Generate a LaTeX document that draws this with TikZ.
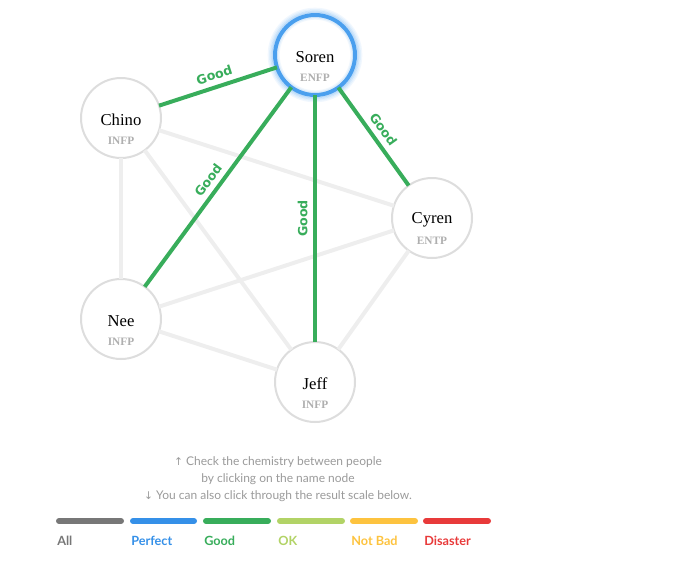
\documentclass[tikz,border=0pt]{standalone}
\usepackage{fontspec}
\setmainfont{Liberation Serif}
\setsansfont{Lato}
\newfontfamily\edgefont{DejaVu Sans}
\newfontfamily\arrowfont{DejaVu Sans}
\usetikzlibrary{positioning}

\definecolor{goodgreen}{HTML}{38AD5B}
\definecolor{edgegray}{HTML}{EEEEEE}
\definecolor{ringgray}{HTML}{DDDDDD}
\definecolor{sorenblue}{HTML}{4A9FEE}
\definecolor{typegray}{HTML}{AFAFAF}
\definecolor{hintgray}{HTML}{9A9A9A}
\definecolor{allgray}{HTML}{777777}
\definecolor{perfectblue}{HTML}{3590E8}
\definecolor{okgreen}{HTML}{B2D366}
\definecolor{notbadyellow}{HTML}{FDC33F}
\definecolor{disasterred}{HTML}{E83A3A}

\tikzset{
  person/.style={circle, draw=ringgray, line width=1.5pt, fill=white, minimum size=60pt, inner sep=0pt, outer sep=0pt},
  pname/.style={font=\fontsize{12.5}{12.5}\selectfont},
  ptype/.style={font=\bfseries\fontsize{8.5}{8.5}\selectfont, text=typegray},
  weak/.style={edgegray, line width=3pt},
  good/.style={goodgreen, line width=3pt},
  goodtext/.style={text=goodgreen, font=\edgefont\bfseries\fontsize{9.5}{9.5}\selectfont, inner sep=4pt},
  goodlabel/.style={goodtext, midway, sloped, above},
  goodlabelup/.style={goodtext, midway, rotate=90, anchor=south},
  scalebar/.style={line width=4.5pt, line cap=round},
  scalelabel/.style={anchor=west, inner sep=0pt, font=\sffamily\bfseries\fontsize{9.5}{9.5}\selectfont}
}

\newcommand{\person}[4]{%
  \node[person] (#1) at (#2) {};
  \node[pname] (#1-name) at ([yshift=-1.5pt]#1.center) {#3};
  \node[ptype] (#1-type) at ([yshift=-17pt]#1.center) {#4};
}

\begin{document}
\begin{tikzpicture}[x=0.75pt, y=-0.75pt]
\useasboundingbox (0,0) rectangle (680,565);

% people
\person{soren}{315,55}{Soren}{ENFP}
\person{chino}{121,118}{Chino}{INFP}
\person{cyren}{432,218}{Cyren}{ENTP}
\person{nee}{121,319}{Nee}{INFP}
\person{jeff}{315,382}{Jeff}{INFP}

% selected node: blue ring with glow
\draw[sorenblue, line width=3pt] (soren) circle[radius=30pt];
\foreach \r/\o in {32/0.35, 33/0.25, 34/0.15, 35/0.08, 28/0.18, 27/0.08}
  \draw[sorenblue, line width=1pt, opacity=\o] (soren) circle[radius=\r pt];

% other links
\draw[weak] (chino) -- (cyren);
\draw[weak] (chino) -- (nee);
\draw[weak] (chino) -- (jeff);
\draw[weak] (nee) -- (cyren);
\draw[weak] (nee) -- (jeff);
\draw[weak] (cyren) -- (jeff);

% links of Soren
\draw[good] (chino) -- node[goodlabel] {Good} (soren);
\draw[good] (nee) -- node[goodlabel] {Good} (soren);
\draw[good] (jeff) -- node[goodlabelup] {Good} (soren);
\draw[good] (soren) -- node[goodlabel] {Good} (cyren);

% hint
\node[align=center, text=hintgray, font=\sffamily\fontsize{9}{12.75}\selectfont] (hint) at (278,479)
  {{\arrowfont\fontsize{8}{8}\selectfont↑} Check the chemistry between people\\
   by clicking on the name node\\
   {\arrowfont\fontsize{8}{8}\selectfont↓} You can also click through the result scale below.};

% result scale
\draw[scalebar, allgray] (59,521) -- (121,521);
\draw[scalebar, perfectblue] (133,521) -- (194,521);
\draw[scalebar, goodgreen] (206,521) -- (268,521);
\draw[scalebar, okgreen] (280,521) -- (342,521);
\draw[scalebar, notbadyellow] (353,521) -- (415,521);
\draw[scalebar, disasterred] (426,521) -- (488,521);
\node[scalelabel, text=allgray] (all) at (57,541) {All};
\node[scalelabel, text=perfectblue] (perfect) at (131,541) {Perfect};
\node[scalelabel, text=goodgreen] (goodscale) at (204,541) {Good};
\node[scalelabel, text=okgreen] (ok) at (278,541) {OK};
\node[scalelabel, text=notbadyellow] (notbad) at (351,541) {Not Bad};
\node[scalelabel, text=disasterred] (disaster) at (424,541) {Disaster};

\end{tikzpicture}
\end{document}
